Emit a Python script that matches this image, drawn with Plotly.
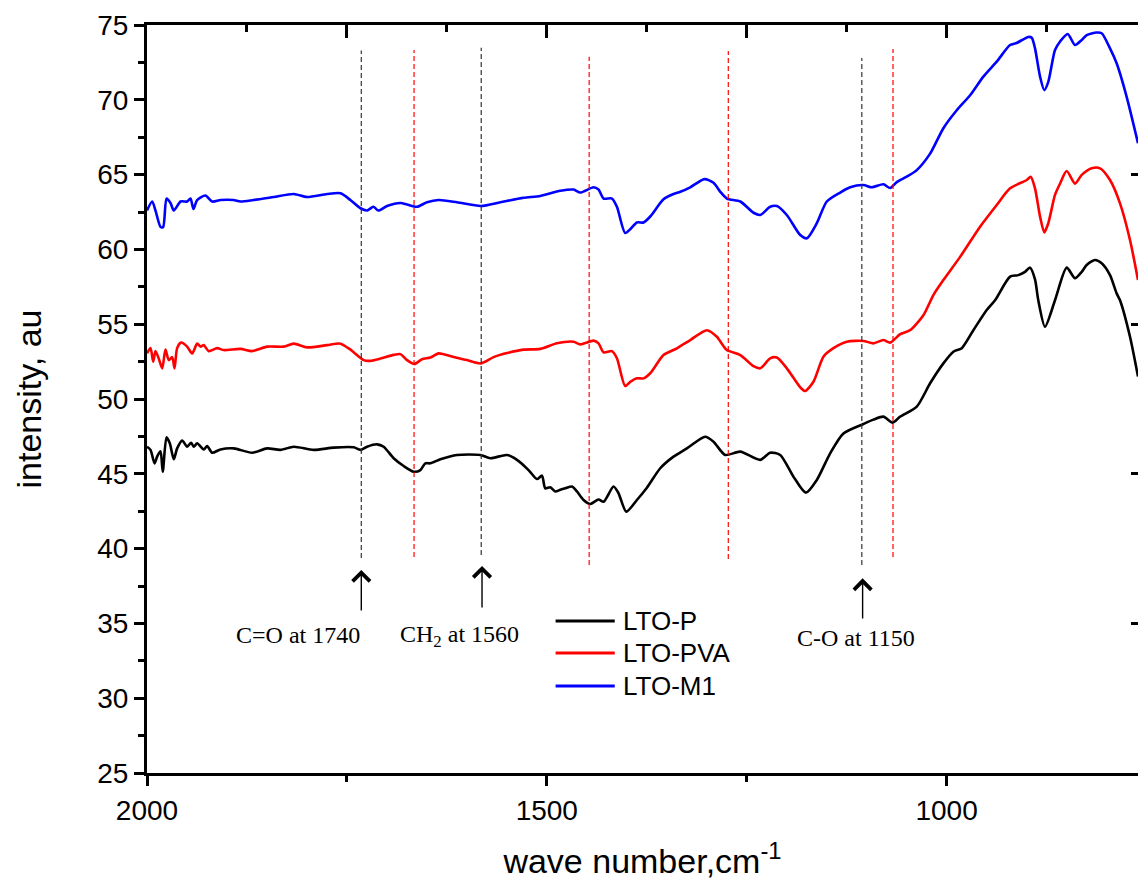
import plotly.graph_objects as go

# ---------------- data ----------------
series_names = ["LTO-P", "LTO-PVA", "LTO-M1"]
series_colors = ["#000000", "#FF0000", "#0000FF"]

wn_p = [2000, 1995.6, 1990.6, 1987.3, 1983.1, 1980.3, 1975.6, 1971.5, 1966.5, 1962.3,
        1956, 1949.8, 1944.8, 1941.5, 1937.3, 1929, 1924.8, 1918.5, 1908.1, 1891.5,
        1868.5, 1849.8, 1833.1, 1816.5, 1791.5, 1766.5, 1741.5, 1733.1, 1724.8, 1712.3,
        1704, 1691.5, 1679, 1666.5, 1658.1, 1651.9, 1645.6, 1633.1, 1612.3, 1583.1,
        1570.6, 1549.8, 1537.3, 1522.8, 1512.3, 1506, 1501.9, 1495.6, 1489.4, 1483.1,
        1476.9, 1468.5, 1462.3, 1454, 1445.6, 1435.3, 1429, 1416.5, 1410.3, 1400.6,
        1387.3, 1374.8, 1358.1, 1341.5, 1324.8, 1301.9, 1291.5, 1276.9, 1258.1, 1233.1,
        1220.6, 1208.1, 1191.5, 1176, 1162.3, 1145.6, 1129, 1104, 1091.5, 1079,
        1067.3, 1058.1, 1037.3, 1020.6, 1004, 991.5, 981, 966.5, 949.8, 939.4,
        920.6, 910.3, 901.9, 895.6, 889.4, 885.3, 876.9, 864.4, 849.8, 839.4,
        831, 824.8, 814.4, 806, 795.6, 787.3, 783.1, 770.6, 760.6]
int_p = [46.81, 46.6, 45.7, 46.15, 46.5, 45.14, 47.44, 47.04, 45.97, 46.7,
         47.22, 46.81, 47.08, 46.81, 47.04, 46.63, 46.86, 46.41, 46.63, 46.7,
         46.41, 46.7, 46.6, 46.81, 46.6, 46.75, 46.77, 46.6, 46.81, 46.97,
         46.81, 46.04, 45.52, 45.14, 45.25, 45.7, 45.7, 45.97, 46.26, 46.26,
         46.04, 46.26, 45.93, 45.25, 44.65, 44.88, 44.03, 44.1, 43.82, 43.93,
         44.03, 44.15, 43.82, 43.25, 42.98, 43.28, 43.13, 44.15, 43.7, 42.47,
         43.25, 44.07, 45.37, 46.15, 46.7, 47.48, 47.15, 46.26, 46.48, 45.93,
         46.41, 46.26, 44.81, 43.74, 44.59, 46.37, 47.7, 48.33, 48.62, 48.82,
         48.42, 48.82, 49.49, 51.05, 52.38, 53.16, 53.4, 54.6, 55.95, 56.6,
         58.18, 58.28, 58.5, 58.78, 58.0, 56.6, 54.83, 56.6, 58.78, 58.07,
         58.5, 58.96, 59.29, 59.07, 58.28, 57.06, 56.6, 54.16, 51.5]

wn_pva = [2000, 1995.6, 1992.3, 1989.4, 1985.3, 1981, 1976.9, 1972.8, 1968.5, 1965.6,
          1962.3, 1957.3, 1949.8, 1943.5, 1937.3, 1933.1, 1929, 1922.8, 1912.3, 1904,
          1883.1, 1868.5, 1849.8, 1829, 1816.5, 1799.8, 1774.8, 1758, 1745.6, 1729,
          1720.6, 1708, 1691.5, 1683, 1674.8, 1665.6, 1656, 1645.6, 1635.3, 1616.5,
          1599.8, 1582.3, 1566.5, 1549.8, 1529, 1508, 1487.3, 1466.5, 1458, 1441.5,
          1435.3, 1429, 1418.5, 1412.3, 1402, 1395.6, 1387.3, 1379, 1370.6, 1354,
          1337.3, 1320.6, 1299.8, 1287.3, 1274.8, 1258, 1241.5, 1233, 1220.6, 1212.3,
          1199.8, 1183, 1176.9, 1166.5, 1154, 1141.5, 1124.8, 1104, 1091.5, 1079,
          1070.6, 1058, 1045.6, 1029, 1016.5, 1004, 983.1, 958.1, 937.3, 920.6,
          899.8, 894.8, 889.4, 883.1, 877.8, 872.8, 864.4, 858.1, 849.8, 839.4,
          831, 818.5, 808.1, 795.6, 783.1, 770.6, 760.6]
int_pva = [53.05, 53.4, 52.5, 53.2, 52.7, 52.05, 53.3, 52.6, 52.8, 52.05,
           53.4, 53.77, 53.5, 53.05, 53.7, 53.5, 53.6, 53.2, 53.4, 53.27,
           53.35, 53.2, 53.5, 53.5, 53.7, 53.45, 53.6, 53.7, 53.3, 52.6,
           52.55, 52.7, 52.95, 53.0, 52.6, 52.34, 52.66, 52.77, 53.05, 52.8,
           52.6, 52.38, 52.8, 53.07, 53.3, 53.35, 53.72, 53.83, 53.65, 53.9,
           53.72, 53.12, 53.2, 52.72, 50.87, 51.15, 51.38, 51.38, 51.72, 52.94,
           53.39, 53.94, 54.6, 54.16, 53.27, 52.94, 52.2, 52.05, 52.72, 52.77,
           52.05, 50.78, 50.53, 51.15, 52.83, 53.4, 53.83, 53.88, 53.72, 53.94,
           53.77, 54.33, 54.6, 55.6, 56.95, 57.95, 59.5, 61.52, 62.97, 64.08,
           64.64, 64.86, 64.08, 62.19, 61.14, 61.75, 63.64, 64.4, 65.24, 64.4,
           64.98, 65.42, 65.42, 64.64, 63.08, 60.63, 57.95]

wn_m1 = [2000, 1993.5, 1989.4, 1983, 1979.8, 1975.6, 1970.6, 1966.5, 1958, 1949.8,
         1945.6, 1941.9, 1937.3, 1926.9, 1918.5, 1908, 1891.9, 1883, 1866.9, 1841.5,
         1816.5, 1799.8, 1774.8, 1758, 1745.6, 1733, 1724.8, 1716.9, 1710.6, 1699.8,
         1683, 1674.8, 1662.3, 1649.8, 1635.3, 1612.3, 1582.3, 1558, 1529, 1508,
         1483, 1466.5, 1458, 1441.5, 1435.3, 1429, 1418.5, 1412.3, 1402, 1395.6,
         1387.3, 1379, 1370.6, 1354, 1341.5, 1333, 1320.6, 1302.8, 1291.5, 1283,
         1274.8, 1258, 1241.5, 1233, 1220.6, 1212.3, 1199.8, 1183, 1174.8, 1162.3,
         1149.8, 1133, 1120.6, 1104, 1093.5, 1079, 1070.6, 1062.3, 1049.8, 1037.3,
         1020.6, 1004, 987.3, 970.6, 954, 937.3, 920.6, 912.3, 897.8, 893.5,
         889.4, 883.1, 877.8, 872.8, 864.4, 858, 848.5, 839.4, 831, 824.8,
         812.3, 806, 795.6, 787.3, 774.8, 760.6]
int_m1 = [62.6, 63.2, 62.6, 61.5, 61.5, 63.4, 63.1, 62.6, 63.2, 63.2,
          63.4, 62.7, 63.3, 63.6, 63.2, 63.3, 63.3, 63.2, 63.3, 63.5,
          63.7, 63.5, 63.7, 63.75, 63.3, 62.75, 62.6, 62.85, 62.6, 62.9,
          63.1, 63.0, 62.85, 63.15, 63.3, 63.15, 62.9, 63.15, 63.45, 63.57,
          63.92, 64.0, 63.8, 64.15, 64.0, 63.4, 63.4, 62.85, 61.1, 61.35,
          61.8, 61.8, 62.2, 63.35, 63.7, 63.85, 64.15, 64.7, 64.45, 63.85,
          63.4, 63.2, 62.45, 62.3, 62.85, 62.9, 62.3, 60.96, 60.74, 61.75,
          63.2, 63.8, 64.15, 64.3, 64.15, 64.35, 64.1, 64.5, 64.86, 65.3,
          66.4, 68.1, 69.3, 70.3, 71.55, 72.55, 73.66, 73.8, 74.2, 74.15,
          73.44, 71.55, 70.65, 71.2, 73.33, 73.9, 74.4, 73.66, 74.0, 74.33,
          74.5, 74.45, 73.44, 72.44, 70.2, 67.1]

# dashed marker lines (wavenumber, top, bottom, colour)
mark_wn = [1732, 1666, 1582, 1447, 1273, 1106, 1067]
mark_top = [73.3, 73.33, 73.48, 72.88, 73.26, 72.8, 73.4]
mark_bottom = [39.37, 39.44, 39.57, 38.9, 39.3, 38.9, 39.44]
mark_colors = ["#333333", "#FF0000", "#333333", "#FF0000", "#FF0000", "#333333", "#FF0000"]

# band arrows and labels
arrow_wn = [1732, 1581, 1105]
arrow_tip = [38.57, 38.84, 38.01]
arrow_tail = [35.76, 35.96, 35.23]
band_labels = ["C=O at 1740", "CH<sub>2</sub> at 1560", "C-O at 1150"]
band_label_wn = [1811, 1609, 1113]
band_label_y = [34.22, 34.16, 34.02]

# hand-drawn legend entries
legend_wn0 = 1489
legend_wn1 = 1415
legend_text_wn = 1407
legend_y = [35.16, 33.02, 30.82]

x_range = [2000, 760.6]
y_range = [25, 75]

# ---------------- figure ----------------
fig = go.Figure()
series = [(wn_p, int_p), (wn_pva, int_pva), (wn_m1, int_m1)]
for name, col, (wn, val) in zip(series_names, series_colors, series):
    fig.add_trace(go.Scatter(x=wn, y=val, mode="lines", name=name,
                             line=dict(color=col, width=2.6, shape="spline", smoothing=0.7),
                             showlegend=False))

# dummy trace to activate the top / right mirror axes
fig.add_trace(go.Scatter(x=[], y=[], xaxis="x2", yaxis="y2", showlegend=False,
                         hoverinfo="skip"))

for wn, top, bot, col in zip(mark_wn, mark_top, mark_bottom, mark_colors):
    fig.add_shape(type="line", xref="x", yref="y", x0=wn, x1=wn, y0=bot, y1=top,
                  line=dict(color=col, width=1.2, dash="5px,3px"))

for wn, tip, tail in zip(arrow_wn, arrow_tip, arrow_tail):
    fig.add_annotation(x=wn, y=tip, ax=wn, ay=tail, xref="x", yref="y",
                       axref="x", ayref="y", text="", showarrow=True,
                       arrowhead=4, arrowsize=2.4, arrowwidth=1.4, arrowcolor="black")

for txt, wn, yv in zip(band_labels, band_label_wn, band_label_y):
    fig.add_annotation(x=wn, y=yv, xref="x", yref="y", text=txt, showarrow=False,
                       font=dict(family="Liberation Serif", size=24, color="black"))

for name, col, yv in zip(series_names, series_colors, legend_y):
    fig.add_shape(type="line", xref="x", yref="y", x0=legend_wn0, x1=legend_wn1,
                  y0=yv, y1=yv, line=dict(color=col, width=3))
    fig.add_annotation(x=legend_text_wn, y=yv, xref="x", yref="y", text=name,
                       showarrow=False, xanchor="left",
                       font=dict(family="Liberation Sans", size=26, color="black"))

tick_font = dict(family="Liberation Sans", size=28, color="black")
title_font = dict(family="Liberation Sans", size=34, color="black")

fig.update_layout(
    width=1138, height=886,
    margin=dict(l=147, r=0, t=25, b=113, autoexpand=False),
    paper_bgcolor="white", plot_bgcolor="white",
    hovermode=False,
    xaxis=dict(range=x_range, tick0=0, dtick=500, ticks="outside", ticklen=10,
               tickwidth=3, tickcolor="black", showline=True, linewidth=3,
               linecolor="black", showgrid=False, zeroline=False, tickfont=tick_font,
               minor=dict(tick0=0, dtick=250, ticks="outside", ticklen=6, tickwidth=3,
                          tickcolor="black", showgrid=False),
               title=dict(text="wave number,cm<sup>-1</sup>", font=title_font, standoff=25)),
    yaxis=dict(range=y_range, tick0=0, dtick=5, ticks="outside", ticklen=10,
               tickwidth=3, tickcolor="black", showline=True, linewidth=3,
               linecolor="black", showgrid=False, zeroline=False, tickfont=tick_font,
               minor=dict(tick0=0, dtick=2.5, ticks="outside", ticklen=6, tickwidth=3,
                          tickcolor="black", showgrid=False),
               title=dict(text="intensity, au", font=title_font, standoff=46)),
    xaxis2=dict(range=x_range, overlaying="x", side="top", anchor="y", tick0=0,
                dtick=250, ticks="inside", ticklen=13, tickwidth=3, tickcolor="black",
                showline=True, linewidth=3, linecolor="black", showgrid=False,
                zeroline=False, showticklabels=False,
                minor=dict(tick0=0, dtick=125, ticks="inside", ticklen=7, tickwidth=3,
                           tickcolor="black", showgrid=False)),
    yaxis2=dict(range=y_range, overlaying="y", side="right", anchor="x",
                tickvals=[35, 45, 55, 65], ticks="inside", ticklen=7, tickwidth=3,
                tickcolor="black", showline=False, showgrid=False, zeroline=False,
                showticklabels=False),
)

# remove the default 8px page margin so the figure fills the window exactly
fig.write_html("out.html",
               config={"displayModeBar": False},
               post_script="document.body.style.margin='0';document.body.style.overflow='hidden';")
